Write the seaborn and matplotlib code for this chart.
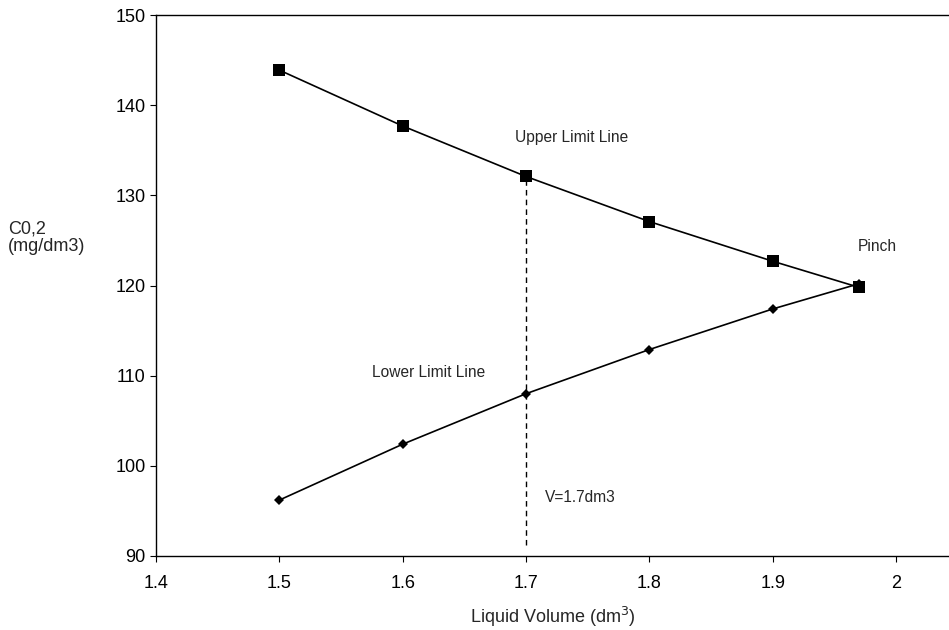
import matplotlib
matplotlib.use("Agg")
import matplotlib.pyplot as plt
import seaborn as sns
import pandas as pd

# Liquid volume (dm3) and concentration limits (mg/dm3)
volume = [1.5, 1.6, 1.7, 1.8, 1.9, 1.97]
upper_limit = [143.9, 137.7, 132.1, 127.1, 122.7, 119.8]
lower_limit = [96.2, 102.4, 108.0, 112.9, 117.4, 120.2]

x_ticks = [1.4, 1.5, 1.6, 1.7, 1.8, 1.9, 2.0]
x_tick_labels = ["1.4", "1.5", "1.6", "1.7", "1.8", "1.9", "2"]
y_ticks = [90, 100, 110, 120, 130, 140, 150]

chosen_volume = 1.7
chosen_upper = 132.1

sns.set_style("ticks")
plt.rcParams["font.family"] = ["Liberation Sans", "DejaVu Sans"]

df = pd.concat([
    pd.DataFrame({"volume": volume, "conc": upper_limit, "line": "Upper"}),
    pd.DataFrame({"volume": volume, "conc": lower_limit, "line": "Lower"}),
])

fig = plt.figure(figsize=(9.49, 6.30), dpi=100)
ax = fig.add_axes([0.1644, 0.1175, 1.0 - 0.1644, 0.976 - 0.1175])

sns.lineplot(data=df, x="volume", y="conc", hue="line", style="line",
             markers={"Upper": "s", "Lower": "D"}, dashes=False,
             palette={"Upper": "black", "Lower": "black"},
             linewidth=1.2, markersize=8, markeredgewidth=0,
             legend=False, ax=ax, sort=False)
# make diamonds a bit smaller than squares
for ln in ax.lines:
    if ln.get_marker() == "D":
        ln.set_markersize(5.6)

# vertical dashed guide at the chosen volume
ax.plot([chosen_volume, chosen_volume], [91.2, chosen_upper],
        color="black", linestyle=(0, (4, 3)), linewidth=1.0)

ax.set_xlim(1.4, 2.043)
ax.set_ylim(90, 150)
ax.set_xticks(x_ticks)
ax.set_xticklabels(x_tick_labels)
ax.set_yticks(y_ticks)
ax.tick_params(axis="both", labelsize=13, direction="out", length=4,
               width=0.8, colors="black")
ax.tick_params(axis="x", pad=10)

for side in ["left", "bottom", "top"]:
    ax.spines[side].set_color("black")
    ax.spines[side].set_linewidth(1.0)
ax.spines["right"].set_visible(False)

ax.set_xlabel("Liquid Volume (dm$^3$)", fontsize=13, labelpad=9)
ax.set_ylabel("")
fig.text(8 / 949, 1 - 238 / 630, "C0,2\n(mg/dm3)", fontsize=13,
         ha="left", va="center", linespacing=1.05)

ax.text(1.691, 136.4, "Upper Limit Line", fontsize=11.2, va="center", ha="left")
ax.text(1.575, 110.4, "Lower Limit Line", fontsize=11.2, va="center", ha="left")
ax.text(1.969, 124.3, "Pinch", fontsize=11.2, va="center", ha="left")
ax.text(1.715, 96.5, "V=1.7dm3", fontsize=11.2, va="center", ha="left")

fig.savefig("out.png", dpi=100)
